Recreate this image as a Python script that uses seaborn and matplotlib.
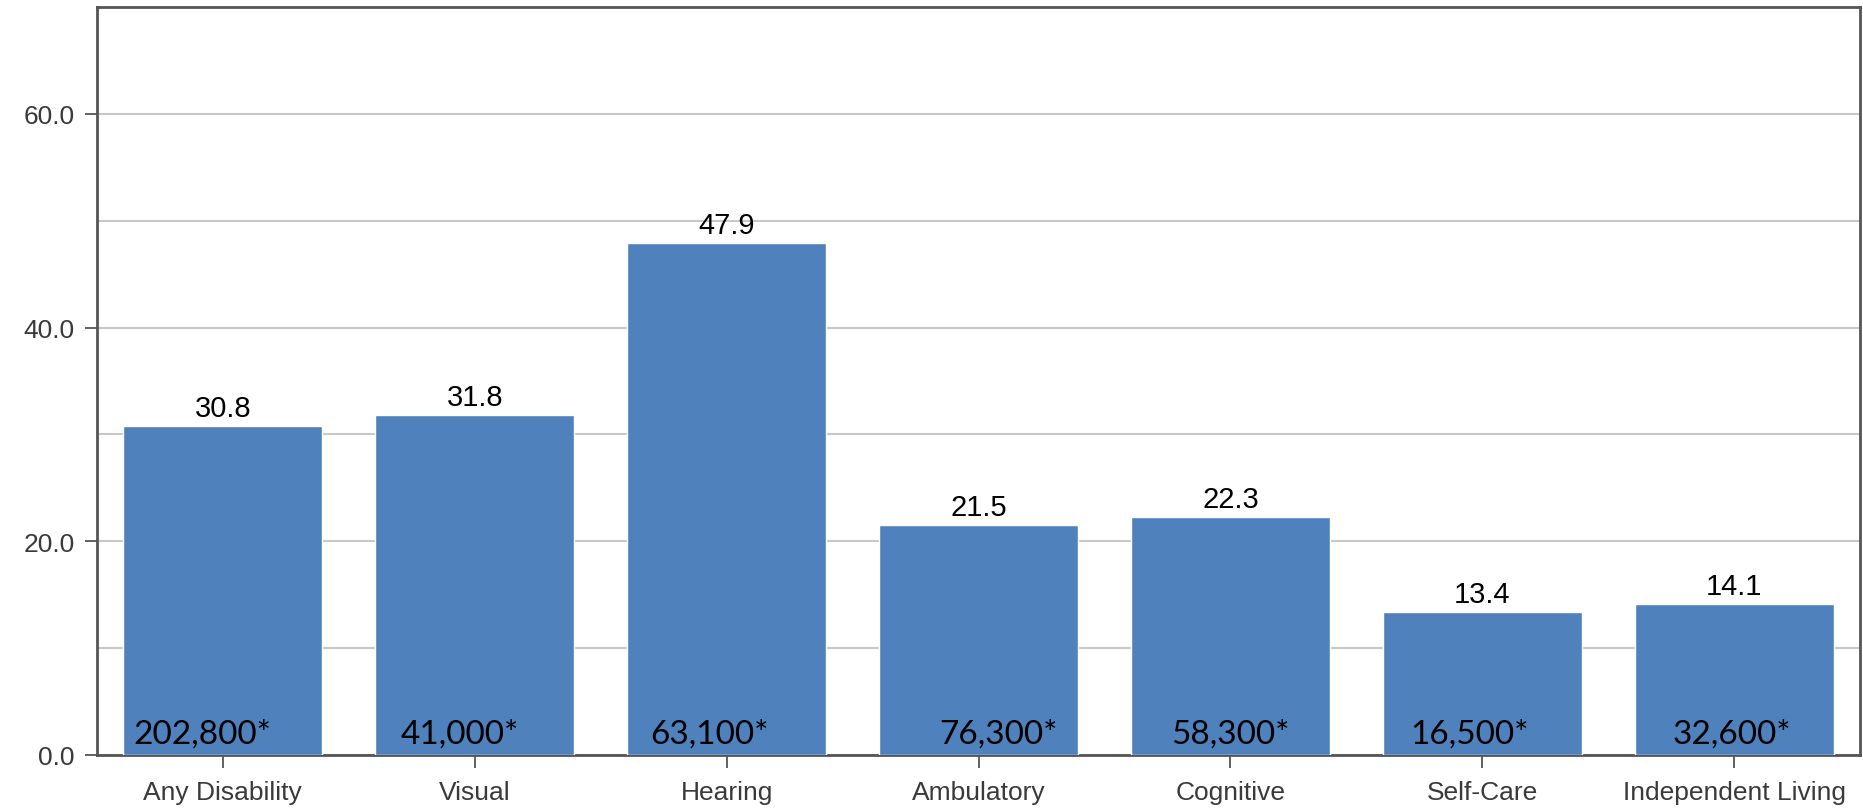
import matplotlib
matplotlib.use('Agg')
import matplotlib.pyplot as plt
from matplotlib.ticker import MultipleLocator, FormatStrFormatter
import pandas as pd
import seaborn as sns

# --- data ---
categories = ['Any Disability', 'Visual', 'Hearing', 'Ambulatory',
              'Cognitive', 'Self-Care', 'Independent Living']
percent = [30.8, 31.8, 47.9, 21.5, 22.3, 13.4, 14.1]
counts = ['202,800*', '41,000*', '63,100*', '76,300*',
          '58,300*', '16,500*', '32,600*']
# small horizontal nudges of the count labels (category units)
count_shift = [-0.08, -0.06, -0.07, 0.08, 0.0, -0.05, -0.01]

df = pd.DataFrame({'category': categories, 'percent': percent})

sns.set_style('white')
plt.rcParams['font.family'] = ['Liberation Sans', 'DejaVu Sans']

fig = plt.figure(figsize=(18.63, 8.12), dpi=100)
ax = fig.add_axes([0.052, 0.069, 0.9465, 0.921])

sns.barplot(data=df, x='category', y='percent', color='#4F81BD',
            saturation=1, width=0.79, ax=ax, zorder=3)

# value labels above the bars
for i, v in enumerate(percent):
    ax.annotate(f'{v:.1f}', (i, v), xytext=(0, 3), textcoords='offset points',
                ha='center', va='bottom', fontsize=21, color='black')

# population counts inside the bars
for i, c in enumerate(counts):
    ax.text(i + count_shift[i], 1.2, c, ha='center', va='baseline',
            fontsize=24, color='black', family=['Lato', 'DejaVu Sans'], zorder=4)

ax.set_ylim(0, 70)
ax.set_xlim(-0.5, len(categories) - 0.5)
ax.yaxis.set_major_locator(MultipleLocator(20))
ax.yaxis.set_minor_locator(MultipleLocator(10))
ax.yaxis.set_major_formatter(FormatStrFormatter('%.1f'))
ax.grid(axis='y', which='both', color='#c8c8c8', linewidth=1.5, zorder=0)
ax.set_axisbelow(True)

ax.tick_params(axis='both', which='major', direction='out', length=9,
               width=1.3, color='#555555', labelsize=19, labelcolor='#3a3a3a')
ax.tick_params(axis='y', which='major', pad=7)
ax.tick_params(axis='x', which='major', pad=9)
ax.tick_params(axis='y', which='minor', length=0)
ax.tick_params(left=True, bottom=True)

for side in ['left', 'right', 'top', 'bottom']:
    ax.spines[side].set_visible(True)
    ax.spines[side].set_color('#555555')
    ax.spines[side].set_linewidth(2)

ax.set_xlabel('')
ax.set_ylabel('')

fig.savefig('out.png', dpi=100)
